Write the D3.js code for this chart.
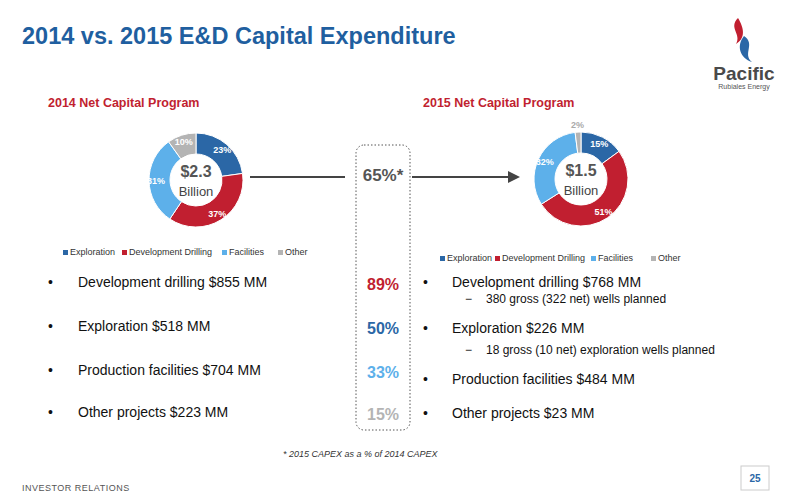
<!DOCTYPE html><html><head><meta charset="utf-8"><script src="https://cdn.jsdelivr.net/npm/d3@7"></script>
<style>body{margin:0;background:#fff}text{font-family:Arial,"Liberation Sans",sans-serif}</style></head><body>
<svg id="c" width="800" height="500"></svg>
<script>
const categories=["Exploration","Development Drilling","Facilities","Other"];
const colors=["#2b67a6","#c11f30","#5db0ea","#b4b4b4"];
const values2014=[23,37,31,10];
const values2015=[15,51,32,2];
const left2014=["Development drilling $855 MM","Exploration $518 MM","Production facilities $704 MM","Other projects $223 MM"];
const pcts=["89%","50%","33%","15%"];
const pctColors=["#c11f30","#2b67a6","#5db0ea","#b4b4b4"];
const svg=d3.select("#c");
svg.append("text").attr("x",22).attr("y",44).attr("font-size",23.5).attr("font-weight","bold").attr("fill","#1f5fa0").text("2014 vs. 2015 E&D Capital Expenditure");
const lg=svg.append("g");
lg.append("path").attr("d","M738,18 C728,28 742,34 736,44 C746,38 744,28 738,18Z").attr("fill","#c11f30");
lg.append("path").attr("d","M744,36 C756,44 742,54 752,62 C740,58 736,46 744,36Z").attr("fill","#2b67a6");
lg.append("text").attr("x",744).attr("y",80).attr("text-anchor","middle").attr("font-size",19).attr("font-weight","bold").attr("fill","#4a4a4a").text("Pacific");
lg.append("text").attr("x",744).attr("y",89).attr("text-anchor","middle").attr("font-size",7).attr("fill","#555").text("Rubiales Energy");
function donut(cx,cy,vals,title,tx,amount){
  svg.append("text").attr("x",tx).attr("y",107).attr("font-size",12.5).attr("font-weight","bold").attr("fill","#c11f30").text(title);
  const pie=d3.pie().sort(null)(vals);
  const arc=d3.arc().innerRadius(26).outerRadius(47);
  const g=svg.append("g").attr("transform",`translate(${cx},${cy})`);
  g.selectAll("path").data(pie).join("path").attr("d",arc).attr("fill",(d,i)=>colors[i]).attr("stroke","#fff").attr("stroke-width",1);
  const la=d3.arc().innerRadius(40).outerRadius(40);
  g.selectAll("text.l").data(pie).join("text").attr("class","l").attr("transform",d=>{let c=la.centroid(d);if(d.data<5)c=d3.arc().innerRadius(54).outerRadius(54).centroid(d);return `translate(${c})`;})
   .attr("text-anchor","middle").attr("dy","0.35em").attr("font-size",9).attr("font-weight","bold").attr("fill",d=>d.data<5?"#aaa":"#fff").text(d=>d.data+"%");
  g.append("text").attr("y",-3).attr("text-anchor","middle").attr("font-size",16).attr("font-weight","bold").attr("fill","#555").text(amount);
  g.append("text").attr("y",16).attr("text-anchor","middle").attr("font-size",13).attr("fill","#444").text("Billion");
}
donut(196,180,values2014,"2014 Net Capital Program",48,"$2.3");
donut(581,179,values2015,"2015 Net Capital Program",423,"$1.5");
function legend(x0,y,widths){
  let x=x0;
  categories.forEach((c,i)=>{svg.append("rect").attr("x",x).attr("y",y-5).attr("width",5).attr("height",5).attr("fill",colors[i]);
    svg.append("text").attr("x",x+7).attr("y",y).attr("font-size",9).attr("fill","#333").text(c);x+=widths[i];});
}
legend(63,255,[59,100,56,40]);
legend(440,261,[55,96,60,40]);
svg.append("line").attr("x1",250).attr("y1",177).attr("x2",345).attr("y2",177).attr("stroke","#444").attr("stroke-width",2);
svg.append("line").attr("x1",412).attr("y1",177).attr("x2",510).attr("y2",177).attr("stroke","#444").attr("stroke-width",2);
svg.append("path").attr("d","M520,177 L508,171 L508,183Z").attr("fill","#444");
svg.append("rect").attr("x",356).attr("y",145).attr("width",54).attr("height",285).attr("rx",8).attr("fill","none").attr("stroke","#555").attr("stroke-dasharray","1.5,2");
svg.append("text").attr("x",383).attr("y",181).attr("text-anchor","middle").attr("font-size",17).attr("font-weight","bold").attr("fill","#555").text("65%*");
const ys=[289,333,377,419];
left2014.forEach((t,i)=>{svg.append("text").attr("x",48).attr("y",ys[i]-2).attr("font-size",14).attr("fill","#111").text("•");
  svg.append("text").attr("x",78).attr("y",ys[i]-2).attr("font-size",14).attr("fill","#111").text(t);});
pcts.forEach((p,i)=>svg.append("text").attr("x",383).attr("y",ys[i]+1).attr("text-anchor","middle").attr("font-size",16).attr("font-weight","bold").attr("fill",pctColors[i]).text(p));
const right=[["•","Development drilling $768 MM",287,14],["−","380 gross (322 net) wells planned",303,12],["•","Exploration $226 MM",333,14],["−","18 gross (10 net) exploration wells planned",354,12],["•","Production facilities $484 MM",384,14],["•","Other projects $23 MM",418,14]];
right.forEach(r=>{const sub=r[0]=="−";svg.append("text").attr("x",sub?465:423).attr("y",r[2]).attr("font-size",r[3]).attr("fill","#111").text(r[0]);
  svg.append("text").attr("x",sub?486:452).attr("y",r[2]).attr("font-size",r[3]).attr("fill","#111").text(r[1]);});
svg.append("text").attr("x",283).attr("y",457).attr("font-size",9).attr("font-style","italic").attr("fill","#333").text("* 2015 CAPEX as a %  of 2014 CAPEX");
svg.append("text").attr("x",22).attr("y",491).attr("font-size",9).attr("fill","#555").attr("letter-spacing",0.5).text("INVESTOR RELATIONS");
svg.append("rect").attr("x",741).attr("y",466).attr("width",28).attr("height",24).attr("fill","#fff").attr("stroke","#ccc");
svg.append("text").attr("x",755).attr("y",482).attr("text-anchor","middle").attr("font-size",10).attr("font-weight","bold").attr("fill","#2b67a6").text("25");
</script></body></html>
